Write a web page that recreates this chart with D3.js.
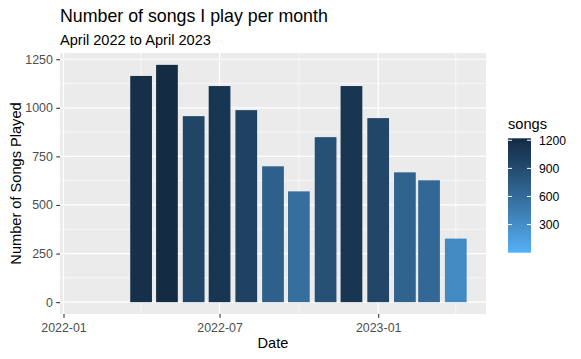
<!DOCTYPE html>
<html>
<head>
<meta charset="utf-8">
<script src="https://cdn.jsdelivr.net/npm/d3@7"></script>
<style>
  body { margin: 0; background: #fff; }
  text { font-family: "Liberation Sans", Arial, sans-serif; }
</style>
</head>
<body>
<div id="chart"></div>
<script>
// data (Feb/Mar 2022 have no plays)
var months = ["2022-02", "2022-03", "2022-04", "2022-05", "2022-06", "2022-07", "2022-08",
              "2022-09", "2022-10", "2022-11", "2022-12", "2023-01", "2023-02", "2023-03", "2023-04"];
var songs = [0, 0, 1164, 1221, 957, 1112, 988, 699, 570, 849, 1112, 947, 668, 627, 327];
var yTicks = [0, 250, 500, 750, 1000, 1250];
var xTickLabels = ["2022-01", "2022-07", "2023-01"];
var legendTicks = [300, 600, 900, 1200];

function createBarChart() {
    var svgWidth = 581;
    var svgHeight = 359;
    var left = 60, right = 486, top = 53, bottom = 314;
    var parse = d3.timeParse("%Y-%m");
    var day = 24 * 3600 * 1000;
    var barDays = 0.9 * 28;

    var data = months.map(function(m, i) {
        return { date: parse(m), value: songs[i] };
    });

    var svg = d3.select("#chart")
                .append("svg")
                .attr("width", svgWidth)
                .attr("height", svgHeight);

    // x scale with ggplot-ish 5% expansion
    var x0 = d3.min(data, function(d) { return +d.date; }) - barDays / 2 * day;
    var x1 = d3.max(data, function(d) { return +d.date; }) + barDays / 2 * day;
    var xpad = (x1 - x0) * 0.05;
    var x = d3.scaleTime()
              .domain([new Date(x0 - xpad), new Date(x1 + xpad)])
              .range([left, right]);

    var maxV = d3.max(songs);
    var y = d3.scaleLinear()
              .domain([-0.05 * maxV, maxV * 1.05])
              .range([bottom, top]);

    var color = d3.scaleLinear()
                  .domain([0, maxV])
                  .range(["#56B1F7", "#132B43"])
                  .interpolate(d3.interpolateLab);

    // panel
    svg.append("rect")
       .attr("x", left).attr("y", top)
       .attr("width", right - left).attr("height", bottom - top)
       .attr("fill", "#EBEBEB");

    var xMajor = xTickLabels.map(parse);
    var xMinor = ["2022-04", "2022-10", "2023-04"].map(parse);
    var yMinor = [125, 375, 625, 875, 1125];

    svg.selectAll(".yminor")
       .data(yMinor).enter().append("line")
       .attr("x1", left).attr("x2", right)
       .attr("y1", function(d) { return y(d); })
       .attr("y2", function(d) { return y(d); })
       .attr("stroke", "#fff").attr("stroke-width", 0.6);

    svg.selectAll(".xminor")
       .data(xMinor).enter().append("line")
       .attr("y1", top).attr("y2", bottom)
       .attr("x1", function(d) { return x(d); })
       .attr("x2", function(d) { return x(d); })
       .attr("stroke", "#fff").attr("stroke-width", 0.6);

    svg.selectAll(".ymajor")
       .data(yTicks).enter().append("line")
       .attr("x1", left).attr("x2", right)
       .attr("y1", function(d) { return y(d); })
       .attr("y2", function(d) { return y(d); })
       .attr("stroke", "#fff").attr("stroke-width", 1.2);

    svg.selectAll(".xmajor")
       .data(xMajor).enter().append("line")
       .attr("y1", top).attr("y2", bottom)
       .attr("x1", function(d) { return x(d); })
       .attr("x2", function(d) { return x(d); })
       .attr("stroke", "#fff").attr("stroke-width", 1.2);

    // bars
    svg.selectAll(".bar")
       .data(data).enter().append("rect")
       .attr("x", function(d) { return x(new Date(+d.date - barDays / 2 * day)); })
       .attr("width", function(d) {
         return x(new Date(+d.date + barDays / 2 * day)) - x(new Date(+d.date - barDays / 2 * day));
       })
       .attr("y", function(d) { return y(d.value); })
       .attr("height", function(d) { return y(0) - y(d.value); })
       .attr("fill", function(d) { return color(d.value); });

    // axes
    var yAxis = svg.append("g")
       .attr("transform", "translate(" + left + ",0)")
       .call(d3.axisLeft(y).tickValues(yTicks).tickSize(3.7).tickPadding(3.5)
             .tickFormat(d3.format("d")));
    var xAxis = svg.append("g")
       .attr("transform", "translate(0," + bottom + ")")
       .call(d3.axisBottom(x).tickValues(xMajor).tickSize(3.7).tickPadding(5)
             .tickFormat(d3.timeFormat("%Y-%m")));
    [yAxis, xAxis].forEach(function(a) {
        a.attr("font-size", null);
        a.select(".domain").remove();
        a.selectAll(".tick line").attr("stroke", "#333333").attr("stroke-width", 1.1);
        a.selectAll(".tick text")
         .attr("fill", "#4D4D4D")
         .style("font-size", "12.4px")
         .attr("font-family", "Liberation Sans, Arial, sans-serif");
    });

    // titles
    svg.append("text")
       .attr("x", left).attr("y", 21.5)
       .attr("font-size", "17.8px").attr("fill", "#000")
       .text("Number of songs I play per month");
    svg.append("text")
       .attr("x", left).attr("y", 44.5)
       .attr("font-size", "14.6px").attr("fill", "#000")
       .text("April 2022 to April 2023");
    svg.append("text")
       .attr("x", (left + right) / 2).attr("y", 348)
       .attr("text-anchor", "middle")
       .attr("font-size", "14.6px").attr("fill", "#000")
       .text("Date");
    svg.append("text")
       .attr("transform", "translate(20.5," + (top + bottom) / 2 + ") rotate(-90)")
       .attr("text-anchor", "middle")
       .attr("font-size", "14.6px").attr("fill", "#000")
       .text("Number of Songs Played");

    // legend colourbar
    var lx = 508, lw = 23;
    var ly = d3.scaleLinear().domain([0, maxV]).range([252.7, 138.3]);
    var grad = svg.append("defs").append("linearGradient")
       .attr("id", "grad")
       .attr("x1", 0).attr("y1", 1).attr("x2", 0).attr("y2", 0);
    grad.selectAll("stop")
       .data(d3.range(0, 1.0001, 0.1)).enter().append("stop")
       .attr("offset", function(d) { return d; })
       .attr("stop-color", function(d) { return color(d * maxV); });

    svg.append("text")
       .attr("x", lx).attr("y", 129)
       .attr("font-size", "14.6px").attr("fill", "#000")
       .text("songs");
    svg.append("rect")
       .attr("x", lx).attr("y", ly(maxV))
       .attr("width", lw).attr("height", ly(0) - ly(maxV))
       .attr("fill", "url(#grad)");
    legendTicks.forEach(function(t) {
        [[lx, lx + 4], [lx + lw - 4, lx + lw]].forEach(function(s) {
            svg.append("line")
               .attr("x1", s[0]).attr("x2", s[1])
               .attr("y1", ly(t)).attr("y2", ly(t))
               .attr("stroke", "#fff").attr("stroke-width", 1);
        });
    });
    svg.selectAll(".ltext")
       .data(legendTicks).enter().append("text")
       .attr("x", lx + lw + 8)
       .attr("y", function(d) { return ly(d); })
       .attr("dy", "0.35em")
       .style("font-size", "12.2px").attr("fill", "#000")
       .text(function(d) { return d; });
}

createBarChart();
</script>
</body>
</html>
